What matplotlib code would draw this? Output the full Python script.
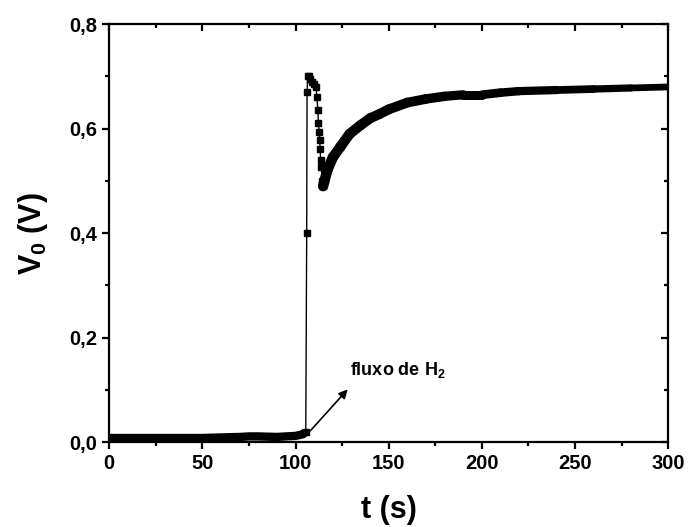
import matplotlib
matplotlib.use("Agg")
import matplotlib.pyplot as plt
from matplotlib.ticker import MultipleLocator, FuncFormatter, NullFormatter
from matplotlib.collections import LineCollection
import numpy as np

plt.rcParams['font.family'] = 'Liberation Sans'
plt.rcParams['font.weight'] = 'bold'
plt.rcParams['mathtext.fontset'] = 'custom'
plt.rcParams['mathtext.rm'] = 'Liberation Sans:bold'
plt.rcParams['mathtext.it'] = 'Liberation Sans:bold'

# baseline before the H2 flow (dense points -> thick band)
t_base = [0, 10, 20, 30, 40, 50, 60, 70, 75, 80, 90, 100, 104, 105.5]
v_base = [0.008, 0.008, 0.008, 0.008, 0.008, 0.008, 0.009, 0.010, 0.011, 0.011, 0.010, 0.012, 0.015, 0.02]

# fast response, individual squares
t_spike = [105.5, 106.0, 106.2, 106.5, 107.0, 108.0, 109.0, 110.0, 111.0, 111.5, 112.0,
           112.3, 112.7, 113.0, 113.2, 113.5, 113.8, 114.3, 114.8]
v_spike = [0.02, 0.40, 0.67, 0.70, 0.70, 0.695, 0.69, 0.685, 0.68, 0.66, 0.635,
           0.61, 0.594, 0.578, 0.562, 0.54, 0.527, 0.50, 0.49]

# slow recovery (dense points -> thick band)
t_rec = [114.8, 117, 120, 124, 129, 135, 140, 145, 150, 160, 170, 180, 190, 200,
         210, 220, 240, 260, 280, 300]
v_rec = [0.49, 0.52, 0.545, 0.565, 0.59, 0.607, 0.62, 0.628, 0.637, 0.65, 0.657,
         0.662, 0.665, 0.665, 0.669, 0.672, 0.674, 0.676, 0.678, 0.68]

fig = plt.figure(figsize=(6.91, 5.27), dpi=100)
ax = fig.add_axes([0.158, 0.161, 0.809, 0.793])

ax.plot(t_base, v_base, '-', color='k', lw=6, solid_capstyle='butt')
ax.plot(t_spike, v_spike, '-', color='k', lw=1, marker='s', ms=5)

# band gets thinner towards the end, as in the original
pts = np.column_stack([t_rec, v_rec])
segs = [pts[i:i + 2] for i in range(len(pts) - 1)]
widths = np.interp(t_rec[:-1], [115, 160, 300], [7.5, 7.0, 4.5])
ax.add_collection(LineCollection(segs, colors='k', linewidths=widths, capstyle='round'))

ax.annotate('', xy=(129, 0.105), xytext=(107, 0.018),
            arrowprops=dict(arrowstyle='-|>', color='k', lw=1.2, mutation_scale=13))
ax.text(129, 0.128, 'fluxo de H$_2$', fontsize=13, fontweight='bold')

ax.set_xlim(0, 300)
ax.set_ylim(0, 0.8)
ax.xaxis.set_major_locator(MultipleLocator(50))
ax.xaxis.set_minor_locator(MultipleLocator(25))
ax.yaxis.set_major_locator(MultipleLocator(0.2))
ax.yaxis.set_minor_locator(MultipleLocator(0.1))
ax.yaxis.set_major_formatter(FuncFormatter(lambda v, p: f'{v:.1f}'.replace('.', ',')))

for s in ax.spines.values():
    s.set_linewidth(1.6)
ax.tick_params(which='both', width=1.6, labelsize=14.5, direction='out')
ax.tick_params(which='major', length=5)
ax.tick_params(which='minor', length=3)

# inward ticks on the right and top sides
for sec in (ax.secondary_yaxis('right'), ax.secondary_xaxis('top')):
    sec.set_axis_on()
    sec.spines[:].set_visible(False)
    sec.tick_params(which='both', direction='in', width=1.6)
    sec.tick_params(which='major', length=5)
    sec.tick_params(which='minor', length=3)
sy, sx = ax.child_axes[0], ax.child_axes[1]
sy.yaxis.set_major_locator(MultipleLocator(0.2))
sy.yaxis.set_minor_locator(MultipleLocator(0.1))
sy.yaxis.set_major_formatter(NullFormatter())
sx.xaxis.set_major_locator(MultipleLocator(50))
sx.xaxis.set_minor_locator(MultipleLocator(25))
sx.xaxis.set_major_formatter(NullFormatter())

ax.set_xlabel('t (s)', fontsize=22, fontweight='bold', labelpad=16)
ax.set_ylabel('V$_{0}$ (V)', fontsize=22, fontweight='bold', labelpad=14)

fig.savefig('out.png', dpi=100)
